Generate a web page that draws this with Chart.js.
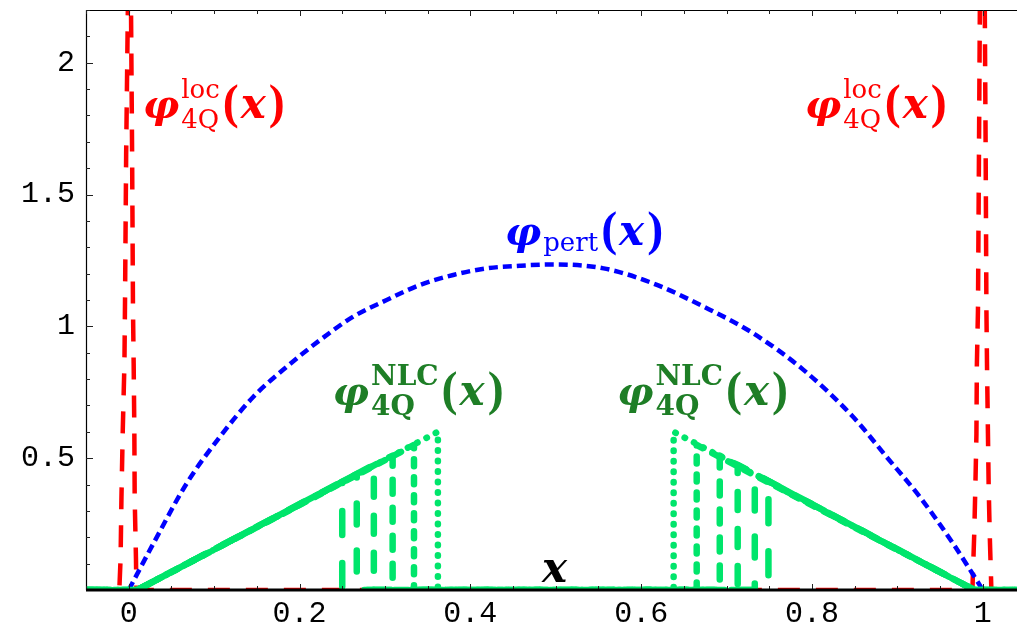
<!DOCTYPE html>
<html>
<head>
<meta charset="UTF-8">
<title>phi 4Q distribution amplitudes</title>
<script src="https://cdn.jsdelivr.net/npm/chart.js"></script>
<style>
    body {
        margin: 0;
        background: #ffffff;
    }

    canvas {
        display: block;
    }
</style>
</head>
<body>
<canvas id="phiChart" width="1017" height="624"></canvas>
<script>
    // axis ticks
    var xTickValues = [0, 0.2, 0.4, 0.6, 0.8, 1];
    var xTickLabels = ['0', '0.2', '0.4', '0.6', '0.8', '1'];
    var yTickValues = [0.5, 1, 1.5, 2];
    var yTickLabels = ['0.5', '1', '1.5', '2'];

    // phi_pert(x), blue short dashes
    var pertX = [0, 0.029, 0.068, 0.107, 0.146, 0.185, 0.224, 0.263, 0.302, 0.341, 0.380, 0.419, 0.458, 0.497,
        0.556, 0.614, 0.673, 0.731, 0.790, 0.848, 0.887, 0.926, 0.965, 1.0];
    var pertY = [0, 0.177, 0.405, 0.582, 0.733, 0.847, 0.948, 1.037, 1.100, 1.157, 1.195, 1.220, 1.230, 1.235,
        1.220, 1.163, 1.075, 0.974, 0.835, 0.657, 0.506, 0.354, 0.177, 0];

    // phi_4Q^loc(x), red: two narrow spikes at the end points
    var locX = [-0.05, -0.011, -0.0095, -0.0085, -0.007, -0.005, -0.0043, -0.003, -0.001, 0.001, 0.0027, 0.004,
        0.005, 0.0058, 0.0066, 0.007, 0.0085, 0.009,
        0.9878, 0.990, 0.9913, 0.9925, 0.993, 0.9943, 0.9955, 0.9965, 0.9995, 1.0023, 1.0033, 1.0042,
        1.0049, 1.006, 1.0068, 1.008, 1.010, 1.04];
    var locY = [0, 0, 0.12, 0.35, 0.6, 0.86, 1.1, 1.65, 2.2, 2.9, 2.2, 1.65,
        1.07, 0.86, 0.6, 0.35, 0.12, 0,
        0, 0.22, 0.40, 0.59, 0.85, 1.06, 1.67, 2.2, 2.9, 2.2, 1.67, 1.06,
        0.85, 0.59, 0.40, 0.22, 0, 0];

    // phi_4Q^NLC(x), green: a ramp cut off at several points, left and right
    var nlcStart = 0.01;
    var nlcEnd = 0.99;
    var nlcCutLeft = [0.25, 0.267, 0.287, 0.309, 0.334, 0.362];
    var nlcTopLeft = [0.41, 0.44, 0.475, 0.51, 0.55, 0.60];
    var nlcCutRight = [0.749, 0.733, 0.713, 0.692, 0.665, 0.638];
    var nlcTopRight = [0.41, 0.44, 0.475, 0.51, 0.55, 0.60];

    var xMin = -0.05, xMax = 1.04, yMin = 0, yMax = 2.2;

    var RED = '#ff0000';
    var BLUE = '#0000ff';
    var GREEN = '#00e56b';
    var GREEN_TEXT = '#1e7e26';
    var nlcDash = [[24, 28], [21, 26], [18, 19], [14, 14], [7, 11], [0.5, 10]];

    function pts(xs, ys) {
        return xs.map(function (x, i) {
            return { x: x, y: ys[i] };
        });
    }

    var datasets = [];
    nlcCutLeft.forEach(function (cut, i) {
        datasets.push({
            data: [
                { x: xMin, y: 0 }, { x: nlcStart, y: 0 },
                { x: cut, y: nlcTopLeft[i] }, { x: cut, y: 0 },
                { x: nlcCutRight[i], y: 0 }, { x: nlcCutRight[i], y: nlcTopRight[i] },
                { x: nlcEnd, y: 0 }, { x: xMax, y: 0 }
            ],
            borderColor: GREEN,
            borderWidth: 6.5,
            borderDash: nlcDash[i],
            borderCapStyle: 'round',
            borderJoinStyle: 'round'
        });
    });
    datasets.push({
        data: pts(pertX, pertY),
        borderColor: BLUE,
        borderWidth: 4.5,
        borderDash: [9, 5],
        cubicInterpolationMode: 'monotone'
    });
    datasets.push({
        data: pts(locX, locY),
        borderColor: RED,
        borderWidth: 4.5,
        borderDash: [22, 16]
    });

    // labels, anchored at data coordinates (left edge, baseline)
    var mathLabels = [
        { x: 0.0167, y: 1.79, color: RED, sup: 'loc', sub: '4Q' },
        { x: 0.7918, y: 1.79, color: RED, sup: 'loc', sub: '4Q' },
        { x: 0.4406, y: 1.31, color: BLUE, sub: 'pert' },
        { x: 0.239, y: 0.70, color: GREEN_TEXT, sup: 'NLC', sub: '4Q', bold: true },
        { x: 0.572, y: 0.70, color: GREEN_TEXT, sup: 'NLC', sub: '4Q', bold: true }
    ];

    var SERIF = '"DejaVu Serif", "Liberation Serif", serif';
    var PAREN = '"Liberation Serif", serif';

    function drawPhi(ctx, px, py, lab) {
        ctx.fillStyle = lab.color;
        ctx.textAlign = 'left';
        ctx.textBaseline = 'alphabetic';
        ctx.font = 'bold italic 40px ' + SERIF;
        ctx.fillText('\u03C6', px, py);
        var x = px + ctx.measureText('\u03C6').width + 2;
        ctx.font = (lab.bold ? 'bold 28px ' : '26px ') + SERIF;
        var w = 0;
        if (lab.sup) {
            ctx.fillText(lab.sup, x, py - 20);
            w = Math.max(w, ctx.measureText(lab.sup).width);
        }
        if (lab.sub) {
            ctx.fillText(lab.sub, x, py + (lab.sup ? 10 : 6));
            w = Math.max(w, ctx.measureText(lab.sub).width);
        }
        x += w + 3;
        ctx.font = 'bold 48px ' + PAREN;
        ctx.fillText('(', x, py);
        x += ctx.measureText('(').width + 2;
        ctx.font = 'bold italic 42px ' + SERIF;
        ctx.fillText('x', x, py);
        x += ctx.measureText('x').width + 3;
        ctx.font = 'bold 48px ' + PAREN;
        ctx.fillText(')', x, py);
    }

    var framePlugin = {
        id: 'frame',
        afterDatasetsDraw: function (chart) {
            var ctx = chart.ctx, a = chart.chartArea;
            var xs = chart.scales.x, ys = chart.scales.y;
            var i, p;
            ctx.save();
            ctx.strokeStyle = '#000000';
            ctx.lineWidth = 1.2;
            ctx.beginPath();
            ctx.moveTo(a.left + 0.5, a.bottom);
            ctx.lineTo(a.left + 0.5, a.top + 0.5);
            ctx.lineTo(a.right, a.top + 0.5);
            ctx.stroke();

            // inward ticks
            ctx.lineWidth = 1;
            ctx.strokeStyle = '#222222';
            ctx.beginPath();
            for (i = -1; i * 0.05 <= xMax + 1e-9; i++) {
                p = Math.round(xs.getPixelForValue(i * 0.05)) + 0.5;
                var len = (i % 4 === 0) ? 6 : 4;
                ctx.moveTo(p, a.top);
                ctx.lineTo(p, a.top + len);
                ctx.moveTo(p, a.bottom);
                ctx.lineTo(p, a.bottom - len);
            }
            for (i = 1; i * 0.1 <= yMax + 1e-9; i++) {
                p = Math.round(ys.getPixelForValue(i * 0.1)) + 0.5;
                var ylen = (i % 5 === 0) ? 7 : 4;
                ctx.moveTo(a.left, p);
                ctx.lineTo(a.left + ylen, p);
            }
            ctx.stroke();

            // x axis at y = 0
            var y0 = ys.getPixelForValue(0);
            ctx.strokeStyle = '#000000';
            ctx.lineWidth = 3;
            ctx.beginPath();
            ctx.moveTo(a.left, y0);
            ctx.lineTo(a.right, y0);
            ctx.stroke();
            ctx.restore();
        },
        afterDraw: function (chart) {
            var ctx = chart.ctx;
            var xs = chart.scales.x, ys = chart.scales.y;
            ctx.save();
            mathLabels.forEach(function (lab) {
                drawPhi(ctx, xs.getPixelForValue(lab.x), ys.getPixelForValue(lab.y), lab);
            });
            // axis label
            ctx.fillStyle = '#000000';
            ctx.font = 'bold italic 42px ' + SERIF;
            ctx.textAlign = 'left';
            ctx.textBaseline = 'alphabetic';
            ctx.fillText('x', xs.getPixelForValue(0.4839), ys.getPixelForValue(0.0303));
            ctx.restore();
        }
    };

    var tickFont = { family: '"Liberation Mono", "DejaVu Sans Mono", monospace', size: 30 };

    var ctx = document.getElementById('phiChart').getContext('2d');
    var phiChart = new Chart(ctx, {
        type: 'line',
        data: { datasets: datasets },
        plugins: [framePlugin],
        options: {
            responsive: false,
            animation: false,
            events: [],
            layout: { padding: { top: 10, left: 0, right: 0, bottom: 0 } },
            datasets: {
                line: { pointRadius: 0, tension: 0, fill: false, clip: 0 }
            },
            plugins: {
                legend: { display: false },
                tooltip: { enabled: false }
            },
            scales: {
                x: {
                    type: 'linear',
                    min: xMin,
                    max: xMax,
                    grid: { display: false, drawTicks: false },
                    border: { display: false },
                    afterBuildTicks: function (scale) {
                        scale.ticks = xTickValues.map(function (v) { return { value: v }; });
                    },
                    afterFit: function (scale) {
                        scale.height = 34;
                        scale.paddingLeft = 0;
                        scale.paddingRight = 0;
                    },
                    ticks: {
                        autoSkip: false,
                        maxRotation: 0,
                        padding: 6,
                        color: '#000000',
                        font: tickFont,
                        callback: function (v, i) { return xTickLabels[i]; }
                    }
                },
                y: {
                    type: 'linear',
                    min: yMin,
                    max: yMax,
                    grid: { display: false, drawTicks: false },
                    border: { display: false },
                    afterBuildTicks: function (scale) {
                        scale.ticks = yTickValues.map(function (v) { return { value: v }; });
                    },
                    afterFit: function (scale) {
                        scale.width = 86;
                        scale.paddingTop = 0;
                        scale.paddingBottom = 0;
                    },
                    ticks: {
                        autoSkip: false,
                        padding: 11,
                        color: '#000000',
                        font: tickFont,
                        callback: function (v, i) { return yTickLabels[i]; }
                    }
                }
            }
        }
    });
</script>
</body>
</html>
